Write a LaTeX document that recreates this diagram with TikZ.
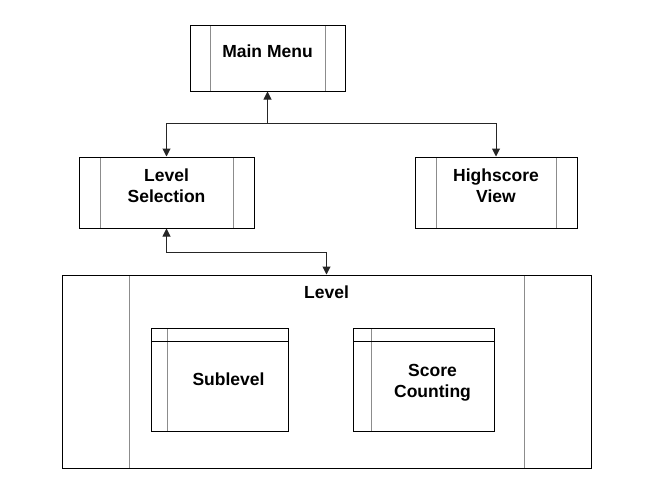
\documentclass[tikz,border=0pt]{standalone}
\usepackage{fontspec}
\setmainfont{Liberation Sans}
\usetikzlibrary{positioning, arrows.meta}

\begin{document}
\begin{tikzpicture}[
    x=1pt, y=-1pt,
    inner/.style={gray!90, line width=1pt},
    module/.style={rectangle, draw=black, line width=1pt, inner sep=0pt,
                   font=\bfseries\fontsize{17.5}{21}\selectfont, align=center,
                   text depth=14pt,
                   path picture={\draw[inner]
                       ([xshift=#1]path picture bounding box.north west) -- ([xshift=#1]path picture bounding box.south west)
                       ([xshift=-#1]path picture bounding box.north east) -- ([xshift=-#1]path picture bounding box.south east);}},
    submodule/.style={rectangle, draw=black, line width=1pt, inner sep=0pt,
                      path picture={\draw[inner]
                          ([xshift=#1]path picture bounding box.north west) -- ([xshift=#1]path picture bounding box.south west);
                          \draw[black, line width=1pt]
                          ([yshift=-13pt]path picture bounding box.north west) -- ([yshift=-13pt]path picture bounding box.north east);}},
    boxtxt/.style={inner sep=0pt, font=\bfseries\fontsize{17.5}{21}\selectfont, align=center},
    arr/.style={-{Triangle[length=8pt, width=8pt]}, black!85, line width=1pt},
    dblarr/.style={{Triangle[length=8pt, width=8pt]}-{Triangle[length=8pt, width=8pt]}, black!85, line width=1pt},
]
\useasboundingbox (0,0) rectangle (650,493);

% Top level
\node[module=20, minimum width=155pt, minimum height=66pt] (mainmenu) at (267.5, 58) {Main Menu};

% Second row
\node[module=21, minimum width=175pt, minimum height=71pt] (lvlsel)  at (166.5, 192.5) {Level\\Selection};
\node[module=21, minimum width=162pt, minimum height=71pt] (hiscore) at (496, 192.5) {Highscore\\View};

% Level with its parts
\node[module=67, minimum width=529pt, minimum height=193pt] (level) at (326.5, 371.5) {};
\node[boxtxt, anchor=north, below=11pt of level.north] (leveltxt) {Level};
\node[submodule=16, minimum width=137pt, minimum height=103pt] (sublevel) at (219.5, 379.5) {};
\node[boxtxt] (sublevtxt) at ([xshift=9pt]sublevel.center) {Sublevel};
\node[submodule=18, minimum width=141pt, minimum height=103pt] (score) at (423.5, 379.5) {};
\node[boxtxt] (scoretxt) at ([xshift=9pt, yshift=-3pt]score.center) {Score\\Counting};

% Connectors
\coordinate[below=32pt of mainmenu.south] (hub);
\draw[arr] (hub) -- (mainmenu.south);
\draw[arr] (hub) -| (lvlsel.north);
\draw[arr] (hub) -| (hiscore.north);
\draw[dblarr] (lvlsel.south) -- ++(0,24) -| (level.north);

\end{tikzpicture}
\end{document}
